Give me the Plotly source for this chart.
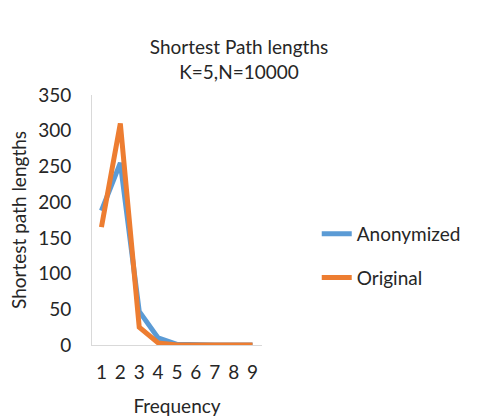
import plotly.graph_objects as go

categories = [1, 2, 3, 4, 5, 6, 7, 8, 9]
anonymized = [188, 255, 47, 10, 1, 0, 0, 0, 0]
original = [165, 310, 25, 3, 0, 0, 0, 0, 0]

FONT = "Lato, Open Sans, sans-serif"
FS = 19

fig = go.Figure()
fig.add_trace(go.Scatter(x=categories, y=anonymized, mode="lines", name="Anonymized",
                         legendgroup="a",
                         line=dict(color="#5b9bd5", width=5)))
fig.add_trace(go.Scatter(x=categories, y=original, mode="lines", name="Original",
                         legendgroup="b",
                         line=dict(color="#ed7d31", width=5)))

fig.update_layout(
    width=478, height=417,
    margin=dict(l=92, r=206, t=95, b=72),
    paper_bgcolor="white", plot_bgcolor="white",
    font=dict(family=FONT, size=FS, color="#262626"),
    title=dict(text="Shortest Path lengths<br>K=5,N=10000", x=0.5, xanchor="center",
               y=0.87, yanchor="middle", font=dict(size=FS, color="#262626")),
    showlegend=True,
    legend=dict(x=1.322, y=0.356, xanchor="left", yanchor="middle",
                traceorder="grouped", tracegroupgap=16,
                font=dict(size=FS, color="#262626"),
                bgcolor="rgba(0,0,0,0)"),
)
fig.update_xaxes(
    range=[0.5, 9.5], tickmode="array", tickvals=categories,
    ticktext=[str(c) for c in categories],
    showgrid=False, showline=True, linecolor="#d9d9d9", linewidth=1,
    ticks="", zeroline=False, ticklabelstandoff=10, automargin=False,
    title=dict(text="Frequency", font=dict(size=FS), standoff=18),
)
fig.update_yaxes(
    range=[0, 350], dtick=50, showgrid=False, showline=True,
    linecolor="#d9d9d9", linewidth=1, zeroline=False,
    ticks="outside", ticklen=16, tickcolor="rgba(0,0,0,0)",
    automargin=True,
    title=dict(text="Shortest path lengths", font=dict(size=FS), standoff=6),
)

fig.write_html("out.html")
